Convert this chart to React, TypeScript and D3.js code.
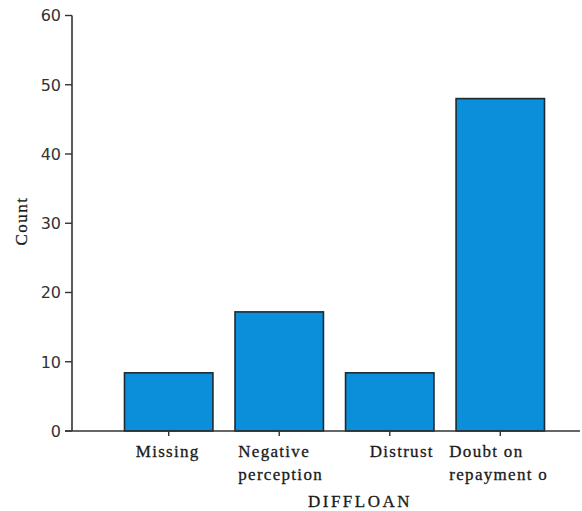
import React from "react";
import * as d3 from "d3";

const categories = ["Missing", "Negative perception", "Distrust", "Doubt on repayment o"];
const labelLines = [["Missing"], ["Negative", "perception"], ["Distrust"], ["Doubt on", "repayment o"]];
const counts = [8.4, 17.2, 8.4, 48];
const yTicks = [0, 10, 20, 30, 40, 50, 60];

export default function App() {
  const W = 582, H = 511;
  const x = d3.scaleBand<string>().domain(categories).range([124.5, 544.5]).paddingInner(0.2).paddingOuter(0);
  const y = d3.scaleLinear().domain([0, 60]).range([431, 15.5]);
  const axisX0 = 72;
  const font = "Liberation Serif";
  // label placement: [anchor, dx from band center]
  const labelPos: [string, number][] = [["middle", -1], ["start", -41], ["middle", 12], ["start", -51]];
  return (
    <svg width={W} height={H} style={{ position: "absolute", left: 0, top: 0, background: "#fff" }}>
      {categories.map((c, i) => (
        <rect key={c} x={x(c)} y={y(counts[i])} width={x.bandwidth()} height={y(0) - y(counts[i])}
          fill="#0b8fdb" stroke="#1c2a33" strokeWidth={1.6} />
      ))}
      <line x1={axisX0} x2={axisX0} y1={y(60)} y2={y(0)} stroke="#333" strokeWidth={1.6} />
      <line x1={axisX0 - 7} x2={580} y1={y(0)} y2={y(0)} stroke="#333" strokeWidth={1.6} />
      {yTicks.map(t => (
        <g key={t}>
          <line x1={axisX0 - 7} x2={axisX0} y1={y(t)} y2={y(t)} stroke="#333" strokeWidth={1.4} />
          <text x={axisX0 - 11} y={y(t)} dy="0.37em" textAnchor="end" fontFamily="DejaVu Sans" fontSize={16} fill="#333">{t}</text>
        </g>
      ))}
      {categories.map((c, i) => {
        const cx = (x(c) as number) + x.bandwidth() / 2;
        return (
          <g key={c}>
            <line x1={cx} x2={cx} y1={y(0)} y2={y(0) + 5} stroke="#333" strokeWidth={1.4} />
            {labelLines[i].map((l, j) => (
              <text key={j} x={cx + labelPos[i][1]} y={457 + j * 23} textAnchor={labelPos[i][0]}
                fontFamily={font} fontSize={17} fill="#1a1a1a" stroke="#1a1a1a" strokeWidth={0.3} letterSpacing={1.3}>{l}</text>
            ))}
          </g>
        );
      })}
      <text x={360} y={507} textAnchor="middle" fontFamily={font} fontSize={17} fill="#1a1a1a" stroke="#1a1a1a" strokeWidth={0.3} letterSpacing={2.5}>DIFFLOAN</text>
      <text transform="translate(27,221) rotate(-90)" textAnchor="middle" fontFamily={font} fontSize={17} fill="#1a1a1a" stroke="#1a1a1a" strokeWidth={0.3} letterSpacing={1.5}>Count</text>
    </svg>
  );
}
